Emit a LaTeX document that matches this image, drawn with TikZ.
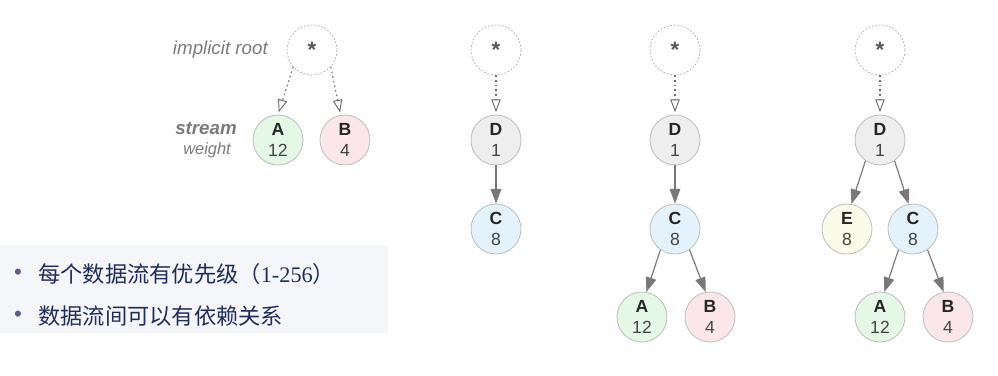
\documentclass[tikz,border=0pt]{standalone}
\usepackage{fontspec}
\setmainfont{Liberation Sans}
\newfontfamily\cjk{Noto Sans CJK SC}
\newfontfamily\serifnum{Liberation Serif}
\usetikzlibrary{arrows.meta}
\definecolor{ringgray}{HTML}{BDBDBD}
\definecolor{rootgray}{HTML}{A8A8A8}
\definecolor{edgegray}{HTML}{787878}
\definecolor{dotgray}{HTML}{6A6A6A}
\definecolor{labelgray}{HTML}{7A7A7A}
\definecolor{numgray}{HTML}{444444}
\definecolor{fillA}{HTML}{E5F7E5}
\definecolor{fillB}{HTML}{FBE7EA}
\definecolor{fillC}{HTML}{E4F2FC}
\definecolor{fillD}{HTML}{EEEEEE}
\definecolor{fillE}{HTML}{FAFBE8}
\definecolor{navy}{HTML}{1F2D5C}
\definecolor{panel}{HTML}{F5F6FA}
\newcommand{\sw}[2]{{\bfseries #1}\\{\color{numgray}#2}}

\begin{document}
\begin{tikzpicture}[x=0.03cm, y=-0.03cm,
  strm/.style={circle, draw=ringgray, line width=0.7pt, minimum size=1.5cm,
    inner sep=0pt, align=center, text=black!85, font=\fontsize{15}{18.5}\selectfont},
  rootnode/.style={circle, draw=rootgray, line width=0.6pt,
    dash pattern=on 1.5pt off 1.5pt, minimum size=1.5cm, inner sep=0pt,
    text=numgray!90, font=\bfseries\fontsize{19}{19}\selectfont},
  dep/.style={draw=edgegray, line width=1pt,
    -{Triangle[length=12.5pt, width=9pt]}},
  imp/.style={draw=dotgray, line width=0.9pt, dash pattern=on 1.4pt off 2.6pt,
    -{Triangle[open, length=11pt, width=8pt, line width=0.8pt]},
    shorten >=2pt},
  lbl/.style={text=labelgray, anchor=east, inner sep=0pt},
  bullet/.style={text=navy!75, font=\fontsize{19}{19}\selectfont}]
  \useasboundingbox (0,0) rectangle (998,376);

  % bullet panel
  \fill[panel] (0,245) rectangle (388,333);
  \node[bullet] (dot1) at (18,274) {•};
  \node[bullet] (dot2) at (18,316) {•};
  \node[anchor=west, inner sep=0pt, text=navy, font=\cjk\fontsize{19}{19}\selectfont]
    (line1) at (38,274) {每个数据流有优先级（{\serifnum 1-256}）};
  \node[anchor=west, inner sep=0pt, text=navy, font=\cjk\fontsize{19}{19}\selectfont]
    (line2) at (38,316) {数据流间可以有依赖关系};

  % tree 1: two streams under the implicit root
  \node[lbl, font=\itshape\fontsize{16}{16}\selectfont] (implicit) at (268,50) {implicit root};
  \node[lbl, font=\bfseries\itshape\fontsize{16}{16}\selectfont] (streamlbl) at (237,128) {stream};
  \node[lbl, font=\itshape\fontsize{14}{14}\selectfont] (weightlbl) at (231,150) {weight};
  \node[rootnode] (r1) at (312,50) {*};
  \node[strm, fill=fillA] (a1) at (278,140) {\sw{A}{12}};
  \node[strm, fill=fillB] (b1) at (345,140) {\sw{B}{4}};
  \draw[imp] (r1.222) -- (a1.north);
  \draw[imp] (r1.318) -- (b1.100);

  % tree 2: D on top of C
  \node[rootnode] (r2) at (496,50) {*};
  \node[strm, fill=fillD] (d2) at (496,140) {\sw{D}{1}};
  \node[strm, fill=fillC] (c2) at (496,229) {\sw{C}{8}};
  \draw[imp] (r2) -- (d2);
  \draw[dep] (d2) -- (c2);

  % tree 3: A and B under C
  \node[rootnode] (r3) at (675,50) {*};
  \node[strm, fill=fillD] (d3) at (675,140) {\sw{D}{1}};
  \node[strm, fill=fillC] (c3) at (675,229) {\sw{C}{8}};
  \node[strm, fill=fillA] (a3) at (642,317) {\sw{A}{12}};
  \node[strm, fill=fillB] (b3) at (710,317) {\sw{B}{4}};
  \draw[imp] (r3) -- (d3);
  \draw[dep] (d3) -- (c3);
  \draw[dep] (c3.235) -- (a3.80);
  \draw[dep] (c3.305) -- (b3.100);

  % tree 4: E added beside C
  \node[rootnode] (r4) at (880,50) {*};
  \node[strm, fill=fillD] (d4) at (880,140) {\sw{D}{1}};
  \node[strm, fill=fillE] (e4) at (847,229) {\sw{E}{8}};
  \node[strm, fill=fillC] (c4) at (913,229) {\sw{C}{8}};
  \node[strm, fill=fillA] (a4) at (880,317) {\sw{A}{12}};
  \node[strm, fill=fillB] (b4) at (948,317) {\sw{B}{4}};
  \draw[imp] (r4) -- (d4);
  \draw[dep] (d4.235) -- (e4.80);
  \draw[dep] (d4.305) -- (c4.100);
  \draw[dep] (c4.235) -- (a4.80);
  \draw[dep] (c4.305) -- (b4.100);
\end{tikzpicture}
\end{document}
